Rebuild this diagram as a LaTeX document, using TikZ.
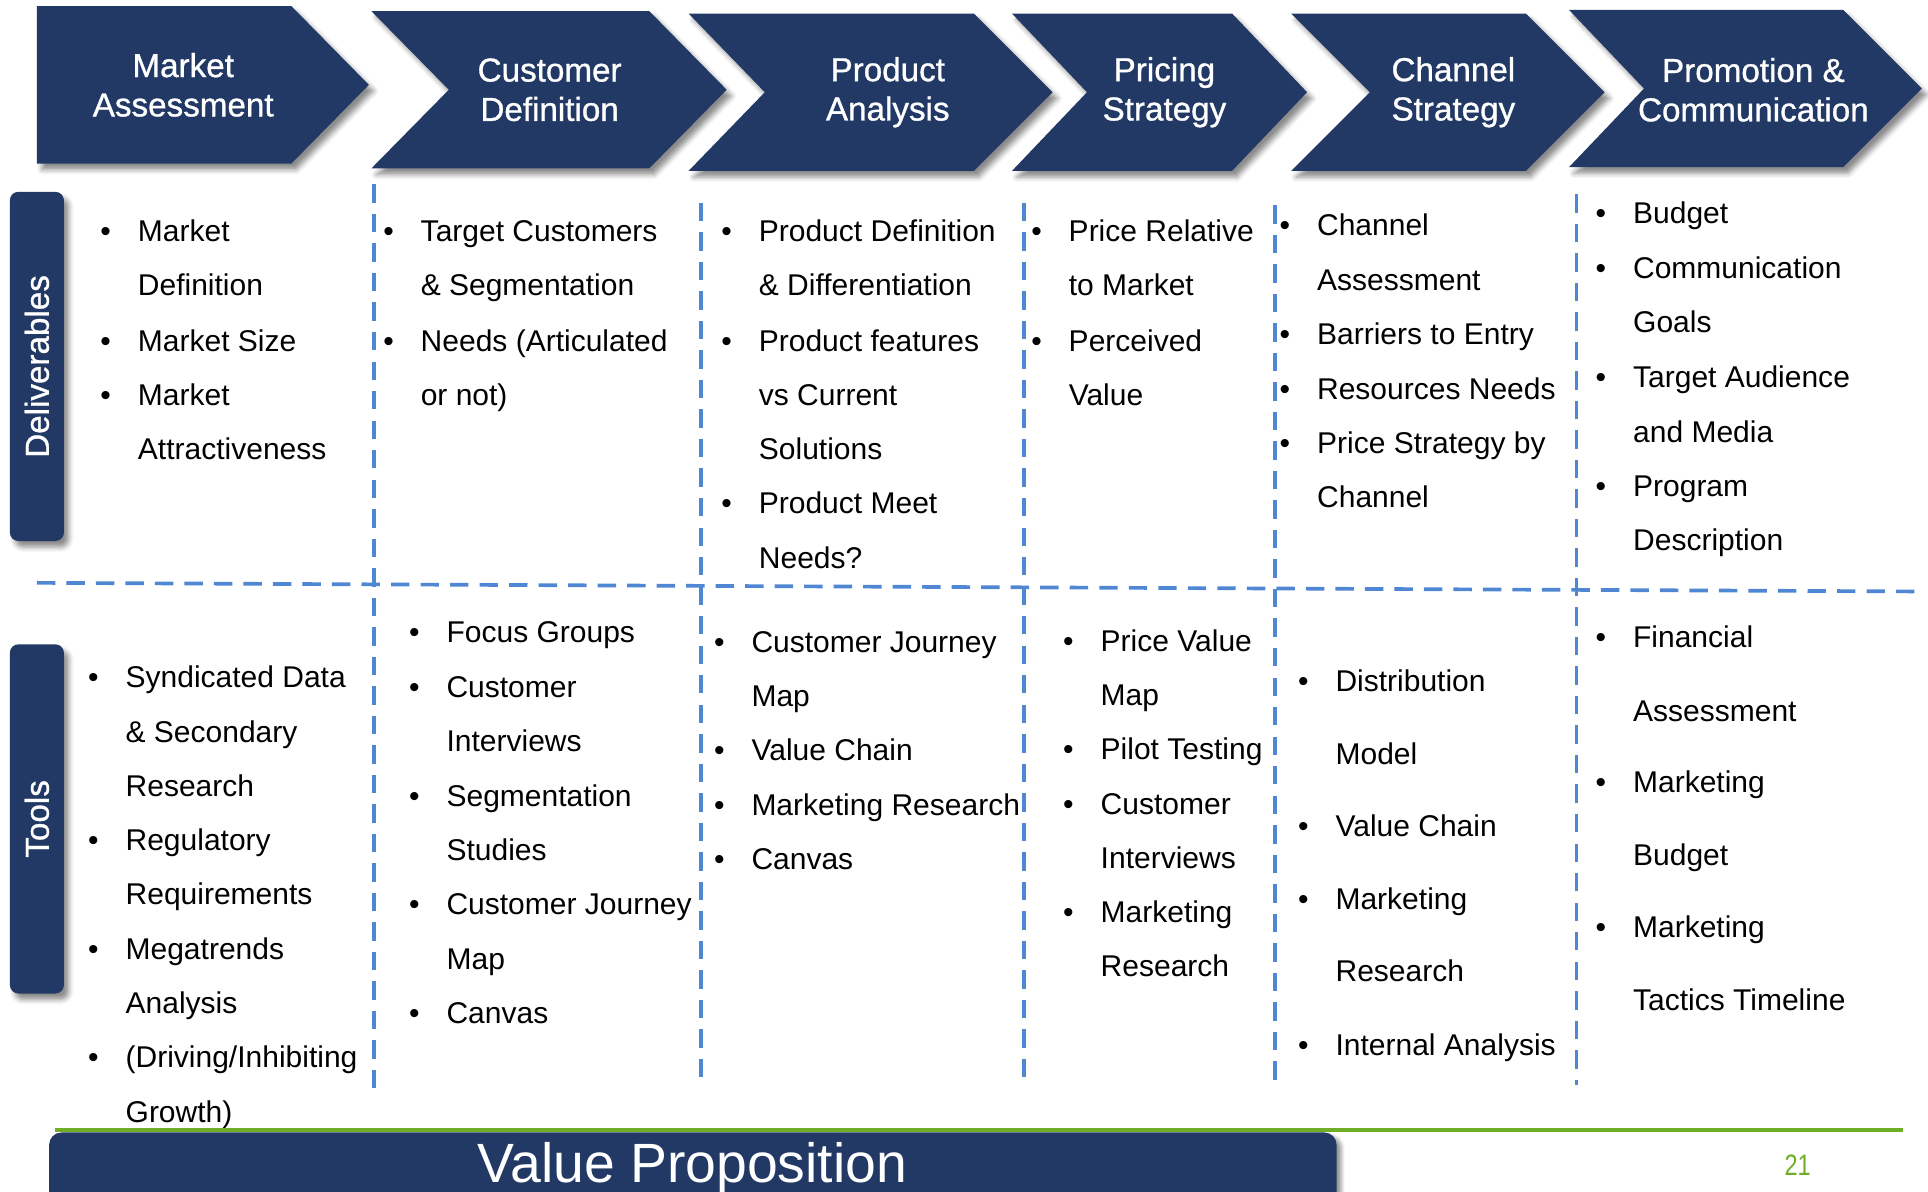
\documentclass[tikz,border=0pt]{standalone}
\usepackage{fontspec}
\setmainfont{Liberation Sans}
\newfontfamily\headfont[FakeBold=0.9]{Liberation Sans}
\usetikzlibrary{shadows,shadows.blur}
\definecolor{navy}{RGB}{33,57,100}
\definecolor{sepblue}{RGB}{80,135,210}
\definecolor{lime}{RGB}{112,174,40}
\newcommand{\bl}{\makebox[26pt][l]{\hspace*{-4.5pt}\textbullet}}
\newcommand{\nb}{\hspace*{26pt}}

\begin{document}
\begin{tikzpicture}[x=1pt, y=-1pt,
    chev/.style={fill=navy, blur shadow={shadow xshift=4pt, shadow yshift=-5pt, shadow blur radius=4pt, shadow opacity=45}},
    head/.style={align=center, text=white, font=\headfont\fontsize{27}{32}\selectfont},
    sidebox/.style={fill=navy, rounded corners=7pt, minimum width=44pt, minimum height=284pt, inner sep=0pt, text=white, font=\headfont\fontsize{27}{32}\selectfont, blur shadow={shadow xshift=4pt, shadow yshift=-5pt, shadow blur radius=4pt, shadow opacity=45}},
    divider/.style={draw=sepblue, line width=3pt, dash pattern=on 15pt off 9pt},
    itm/.style={anchor=base west, inner sep=0pt, yshift=-8.5pt, font=\fontsize{24.4}{29}\selectfont}]
        \useasboundingbox (0,0) rectangle (1568,969);
        %chevrons
        \path[chev] (30,5) -- (237,5) -- (300,69) -- (237,133) -- (30,133) -- cycle;
        \path[chev] (302,9) -- (528,9) -- (591,73) -- (528,137) -- (302,137) -- (365,73) -- cycle;
        \path[chev] (560,11) -- (792,11) -- (856,75) -- (792,139) -- (560,139) -- (622,75) -- cycle;
        \path[chev] (823,11) -- (1002,11) -- (1063,75) -- (1002,139) -- (823,139) -- (884,75) -- cycle;
        \path[chev] (1050,11) -- (1241,11) -- (1305,75) -- (1241,139) -- (1050,139) -- (1114,75) -- cycle;
        \path[chev] (1276,8) -- (1499,8) -- (1563,72) -- (1499,136) -- (1276,136) -- (1337,72) -- cycle;
        \node[head] (mkt) at (149,69) {Market\\Assessment};
        \node[head] (cust) at (447,73) {Customer\\Definition};
        \node[head] (prod) at (722,75) {Product\\Analysis};
        \node[head] (price) at (947,75) {Pricing\\Strategy};
        \node[head] (chan) at (1182,75) {Channel\\Strategy};
        \node[head] (promo) at (1426,73) {Promotion \&\\Communication};
        %row labels
        \node[sidebox] (deliv) at (30,298) {\rotatebox{90}{Deliverables}};
        \node[sidebox] (tools) at (30,666) {\rotatebox{90}{Tools}};
        %grid
        \path[divider] (30,474) -- (1558,481);
        \path[divider] (304,150) -- (304,888);
        \path[divider] (570,165) -- (570,882);
        \path[divider] (833,165) -- (833,882);
        \path[divider] (1037,167) -- (1037,882);
        \path[divider] (1282,158) -- (1282,882);
        %deliverables
        \foreach \y/\t [count=\i] in {188/\bl Market, 232/\nb Definition, 277/\bl Market Size, 321/\bl Market, 365/\nb Attractiveness}
          \node[itm] (d1-\i) at (86,\y) {\t};
        \foreach \y/\t [count=\i] in {188/\bl Target Customers, 232/\nb \& Segmentation, 277/\bl Needs (Articulated, 321/\nb or not)}
          \node[itm] (d2-\i) at (316,\y) {\t};
        \foreach \y/\t [count=\i] in {188/\bl Product Definition, 232/\nb \& Differentiation, 277/\bl Product features, 321/\nb vs Current, 365/\nb Solutions, 409/\bl Product Meet, 454/\nb Needs?}
          \node[itm] (d3-\i) at (591,\y) {\t};
        \foreach \y/\t [count=\i] in {188/\bl Price Relative, 232/\nb to Market, 277/\bl Perceived, 321/\nb Value}
          \node[itm] (d4-\i) at (843,\y) {\t};
        \foreach \y/\t [count=\i] in {183/\bl Channel, 228/\nb Assessment, 272/\bl Barriers to Entry, 316/\bl Resources Needs, 360/\bl Price Strategy by, 404/\nb Channel}
          \node[itm] (d5-\i) at (1045,\y) {\t};
        \foreach \y/\t [count=\i] in {173/\bl Budget, 218/\bl Communication, 262/\nb Goals, 307/\bl Target Audience, 351/\nb and Media, 395/\bl Program, 439/\nb Description}
          \node[itm] (d6-\i) at (1302,\y) {\t};
        %tools
        \foreach \y/\t [count=\i] in {551/\bl Syndicated Data, 595/\nb \& Secondary, 639/\nb Research, 683/\bl Regulatory, 727/\nb Requirements, 772/\bl Megatrends, 816/\nb Analysis, 860/{\bl (Driving/Inhibiting}, 904/\nb Growth)}
          \node[itm] (t1-\i) at (76,\y) {\t};
        \foreach \y/\t [count=\i] in {514/\bl Focus Groups, 559/\bl Customer, 603/\nb Interviews, 647/\bl Segmentation, 691/\nb Studies, 735/\bl Customer Journey, 780/\nb Map, 824/\bl Canvas}
          \node[itm] (t2-\i) at (337,\y) {\t};
        \foreach \y/\t [count=\i] in {522/\bl Customer Journey, 566/\nb Map, 610/\bl Value Chain, 655/\bl Marketing Research, 699/\bl Canvas}
          \node[itm] (t3-\i) at (585,\y) {\t};
        \foreach \y/\t [count=\i] in {521/\bl Price Value, 565/\nb Map, 609/\bl Pilot Testing, 654/\bl Customer, 698/\nb Interviews, 742/\bl Marketing, 786/\nb Research}
          \node[itm] (t4-\i) at (869,\y) {\t};
        \foreach \y/\t [count=\i] in {554/\bl Distribution, 613/\nb Model, 672/\bl Value Chain, 731/\bl Marketing, 790/\nb Research, 850/\bl Internal Analysis}
          \node[itm] (t5-\i) at (1060,\y) {\t};
        \foreach \y/\t [count=\i] in {518/\bl Financial, 578/\nb Assessment, 636/\bl Marketing, 695/\nb Budget, 754/\bl Marketing, 813/\nb Tactics Timeline}
          \node[itm] (t6-\i) at (1302,\y) {\t};
        %footer
        \draw[lime, line width=2.5pt] (45,919) -- (1548,919);
        \path[fill=navy, rounded corners=10pt, blur shadow={shadow xshift=4pt, shadow yshift=-3pt, shadow blur radius=3pt, shadow opacity=40}] (40,921) rectangle (1087,1000);
        \node[anchor=base, text=white, font=\fontsize{45}{50}\selectfont] (vp) at (563,962) {Value Proposition};
        \node[anchor=base, text=lime, font=\fontsize{24}{28}\selectfont] (pg) at (1462,956) {\scalebox{0.8}[1]{21}};
      \end{tikzpicture}
\end{document}
